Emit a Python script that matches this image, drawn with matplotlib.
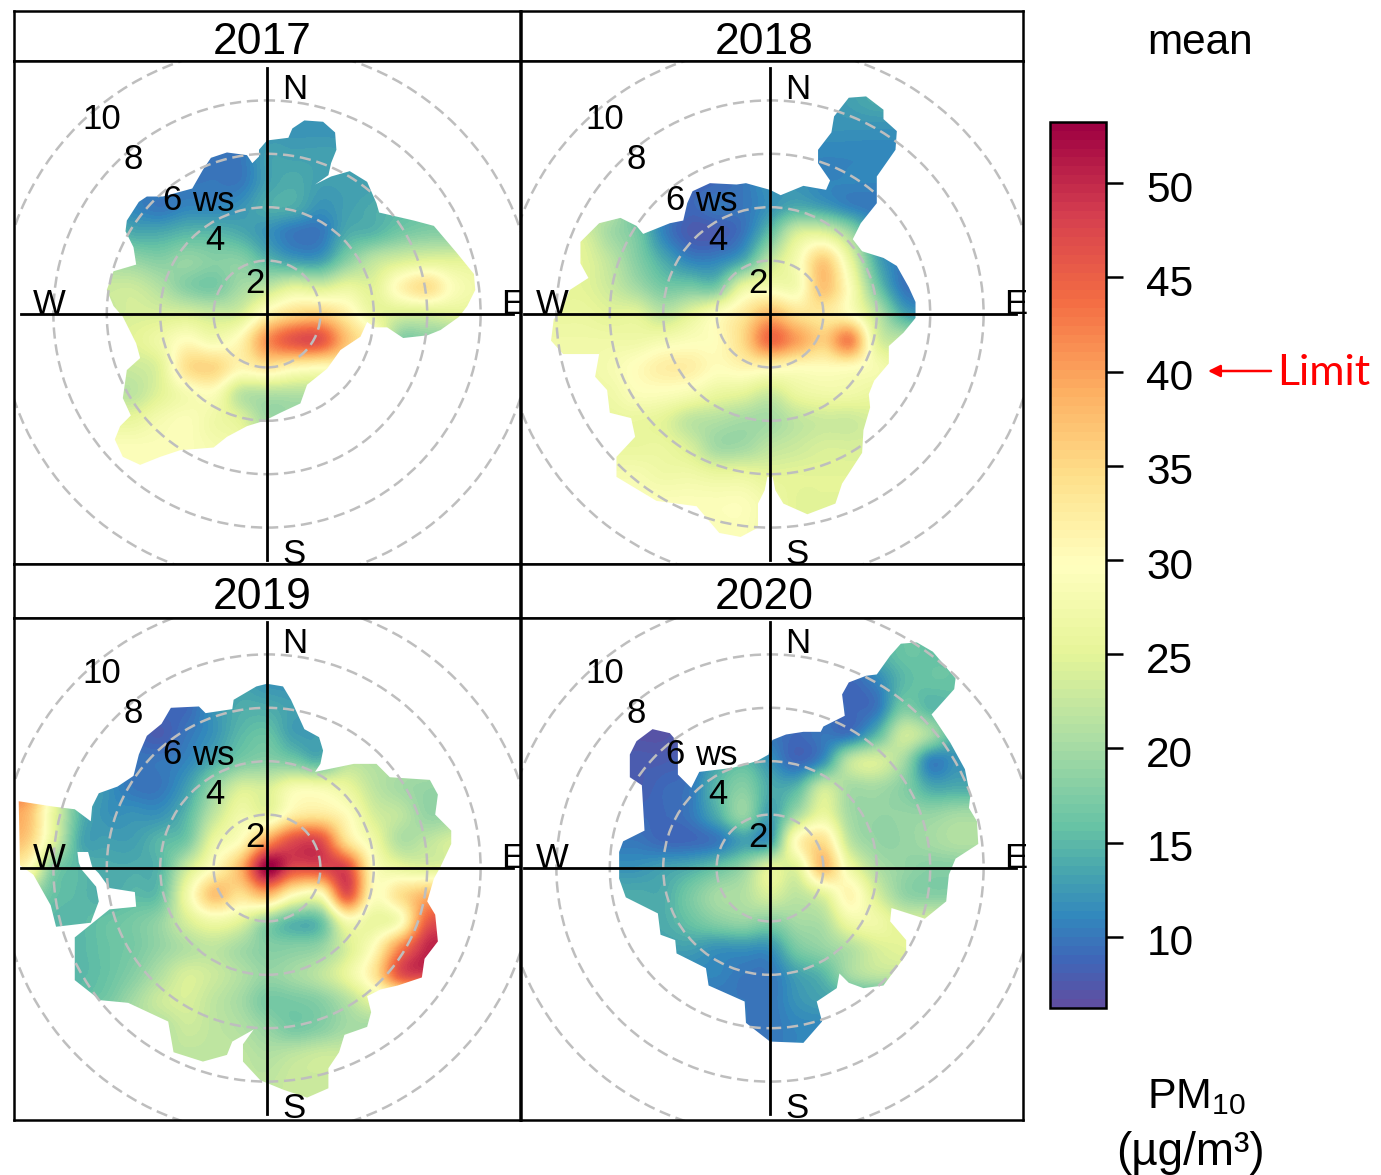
import matplotlib
matplotlib.use("Agg")
import matplotlib.pyplot as plt
import numpy as np
from matplotlib.cm import ScalarMappable
from matplotlib.colors import LinearSegmentedColormap, Normalize
from matplotlib.patches import Circle, FancyArrowPatch, Polygon
from matplotlib.transforms import ScaledTranslation

plt.rcParams['font.family'] = ['Liberation Sans', 'DejaVu Sans']
plt.rcParams['mathtext.default'] = 'regular'

years = ['2017', '2018', '2019', '2020']
ring_ws = [2, 4, 6, 8, 10]
cbar_ticks = [10, 15, 20, 25, 30, 35, 40, 45, 50]
pm_min = 6.23
pm_max = 53.24

# mean PM10, rows ws_y = 9..-9, columns ws_x = -9..9
# cells outside the rim only pad the image, the clip hides them
pm_2017 = [
    [11, 11, 11, 11, 11, 11, 11, 10, 10, 12, 12, 12, 12, 12, 13, 13, 13, 13, 13],
    [11, 11, 11, 11, 11, 11, 11, 10, 10, 12, 12, 12, 12, 12, 13, 13, 13, 13, 13],
    [11, 11, 11, 11, 11, 11, 10, 10, 10, 12, 12, 12, 12, 13, 13, 13, 14, 14, 14],
    [11, 11, 11, 11, 11, 10, 10, 10, 10, 13, 13, 13, 13, 13, 13, 14, 14, 14, 14],
    [11, 11, 11, 11, 11, 11, 10, 10, 10, 13, 14, 13, 13, 13, 14, 14, 15, 15, 15],
    [12, 12, 12, 12, 11, 10, 11, 11, 12, 14, 14, 12, 13, 14, 15, 16, 17, 17, 17],
    [16, 16, 16, 16, 14, 14, 15, 15, 14, 12, 10, 10, 14, 15, 17, 18, 18, 18, 18],
    [22, 22, 22, 20, 19, 18, 19, 18, 18, 15, 13, 13, 18, 22, 24, 25, 25, 25, 25],
    [24, 24, 24, 23, 23, 21, 18, 17, 20, 22, 25, 24, 26, 25, 31, 34, 29, 27, 27],
    [24, 24, 24, 23, 24, 24, 24, 23, 24, 31, 35, 36, 32, 26, 24, 24, 25, 25, 25],
    [25, 25, 25, 25, 25, 27, 30, 28, 31, 41, 46, 46, 37, 30, 18, 18, 18, 18, 18],
    [23, 23, 23, 23, 23, 25, 34, 35, 31, 33, 31, 30, 30, 22, 18, 18, 18, 18, 18],
    [22, 22, 22, 22, 22, 25, 28, 29, 22, 21, 21, 21, 21, 21, 21, 21, 21, 21, 21],
    [26, 26, 26, 26, 26, 28, 29, 27, 25, 20, 20, 20, 20, 20, 20, 20, 20, 20, 20],
    [29, 29, 29, 29, 29, 29, 29, 28, 27, 25, 25, 25, 25, 25, 25, 25, 25, 25, 25],
    [29, 29, 29, 29, 29, 29, 29, 28, 27, 25, 25, 25, 25, 25, 25, 25, 25, 25, 25],
    [29, 29, 29, 29, 29, 29, 29, 28, 27, 25, 25, 25, 25, 25, 25, 25, 25, 25, 25],
    [29, 29, 29, 29, 29, 29, 29, 28, 27, 25, 25, 25, 25, 25, 25, 25, 25, 25, 25],
    [29, 29, 29, 29, 29, 29, 29, 28, 27, 25, 25, 25, 25, 25, 25, 25, 25, 25, 25],
]
pm_2018 = [
    [10, 10, 10, 10, 10, 10, 10, 10, 10, 11, 12, 12, 13, 14, 14, 14, 14, 14, 14],
    [10, 10, 10, 10, 10, 10, 10, 10, 10, 11, 12, 12, 13, 14, 14, 14, 14, 14, 14],
    [10, 10, 10, 10, 10, 10, 10, 10, 10, 11, 12, 12, 12, 12, 12, 12, 12, 12, 12],
    [10, 10, 10, 10, 10, 10, 10, 10, 10, 11, 11, 11, 11, 11, 11, 11, 11, 11, 11],
    [10, 10, 10, 10, 10, 10, 9, 9, 10, 12, 12, 11, 11, 11, 11, 11, 11, 11, 11],
    [20, 20, 20, 20, 15, 11, 9, 10, 10, 12, 14, 13, 11, 10, 10, 10, 10, 10, 10],
    [25, 25, 24, 20, 17, 11, 8, 8, 10, 16, 24, 25, 20, 12, 10, 10, 10, 10, 10],
    [25, 25, 25, 22, 18, 14, 11, 11, 14, 22, 28, 36, 26, 14, 10, 10, 10, 10, 10],
    [25, 25, 25, 23, 20, 17, 17, 17, 26, 28, 28, 37, 29, 17, 10, 10, 10, 10, 10],
    [26, 26, 26, 25, 25, 22, 25, 29, 33, 38, 34, 33, 30, 22, 14, 12, 12, 12, 12],
    [27, 27, 27, 27, 27, 28, 29, 30, 35, 44, 40, 36, 42, 25, 22, 22, 22, 22, 22],
    [27, 27, 27, 28, 30, 32, 32, 30, 31, 31, 30, 30, 30, 28, 26, 26, 26, 26, 26],
    [27, 27, 27, 27, 29, 29, 28, 26, 25, 23, 26, 27, 27, 26, 26, 26, 26, 26, 26],
    [26, 26, 26, 26, 26, 25, 22, 21, 20, 20, 22, 23, 23, 24, 24, 24, 24, 24, 24],
    [26, 26, 26, 26, 26, 26, 24, 20, 20, 22, 23, 24, 24, 24, 24, 24, 24, 24, 24],
    [28, 28, 28, 28, 28, 27, 27, 26, 26, 25, 25, 25, 25, 25, 25, 25, 25, 25, 25],
    [29, 29, 29, 29, 29, 29, 29, 29, 29, 27, 25, 25, 25, 25, 25, 25, 25, 25, 25],
    [29, 29, 29, 29, 29, 29, 29, 29, 29, 27, 25, 25, 25, 25, 25, 25, 25, 25, 25],
    [29, 29, 29, 29, 29, 29, 29, 29, 29, 27, 25, 25, 25, 25, 25, 25, 25, 25, 25],
]
pm_2019 = [
    [9, 9, 9, 9, 9, 9, 9, 11, 13, 12, 12, 12, 13, 14, 14, 14, 14, 14, 14],
    [9, 9, 9, 9, 9, 9, 9, 11, 13, 12, 12, 12, 13, 14, 14, 14, 14, 14, 14],
    [9, 9, 9, 9, 9, 9, 9, 11, 13, 12, 12, 13, 14, 14, 14, 14, 14, 14, 14],
    [9, 9, 9, 9, 9, 9, 9, 12, 14, 14, 13, 13, 14, 14, 14, 14, 14, 14, 14],
    [10, 10, 10, 10, 9, 8, 10, 12, 15, 16, 13, 13, 16, 20, 20, 20, 20, 20, 20],
    [11, 11, 11, 11, 10, 10, 11, 14, 17, 18, 17, 15, 21, 21, 21, 21, 21, 21, 21],
    [38, 26, 15, 12, 10, 10, 13, 19, 24, 24, 28, 28, 26, 22, 20, 19, 19, 19, 19],
    [38, 26, 15, 12, 12, 12, 15, 22, 27, 26, 32, 33, 30, 24, 22, 19, 19, 19, 19],
    [36, 25, 14, 13, 13, 15, 17, 26, 30, 40, 47, 47, 34, 27, 21, 22, 24, 24, 24],
    [30, 18, 15, 14, 14, 15, 23, 30, 38, 53, 47, 47, 47, 30, 26, 25, 25, 25, 25],
    [20, 16, 15, 14, 15, 16, 27, 37, 34, 38, 30, 29, 46, 30, 34, 38, 38, 38, 38],
    [16, 15, 15, 16, 17, 19, 24, 27, 25, 19, 15, 16, 28, 26, 29, 45, 46, 46, 46],
    [15, 15, 15, 16, 17, 19, 21, 22, 20, 18, 18, 19, 24, 30, 42, 50, 50, 50, 50],
    [15, 15, 15, 16, 18, 21, 24, 23, 21, 19, 20, 22, 26, 33, 46, 48, 48, 48, 48],
    [15, 16, 16, 17, 20, 23, 24, 22, 20, 17, 17, 18, 21, 25, 25, 25, 25, 25, 25],
    [20, 20, 20, 20, 21, 21, 23, 22, 21, 19, 17, 18, 20, 20, 20, 20, 20, 20, 20],
    [22, 22, 22, 22, 22, 22, 22, 22, 22, 21, 22, 23, 23, 23, 23, 23, 23, 23, 23],
    [22, 22, 22, 22, 22, 22, 22, 22, 22, 22, 23, 23, 23, 23, 23, 23, 23, 23, 23],
    [22, 22, 22, 22, 22, 22, 22, 22, 22, 22, 23, 23, 23, 23, 23, 23, 23, 23, 23],
]
pm_2020 = [
    [8, 8, 8, 8, 8, 8, 8, 8, 10, 10, 10, 10, 12, 14, 16, 16, 16, 16, 16],
    [8, 8, 8, 8, 8, 8, 8, 8, 10, 10, 10, 10, 12, 14, 16, 16, 16, 16, 16],
    [7, 7, 7, 7, 7, 7, 8, 10, 10, 10, 10, 10, 9, 11, 15, 16, 16, 16, 16],
    [7, 7, 7, 7, 7, 7, 8, 10, 10, 10, 10, 10, 9, 10, 17, 15, 15, 15, 15],
    [7, 7, 7, 7, 7, 7, 8, 10, 10, 10, 9, 10, 10, 15, 23, 20, 14, 14, 14],
    [8, 8, 8, 8, 8, 8, 9, 13, 15, 12, 9, 12, 22, 24, 20, 11, 12, 12, 12],
    [8, 8, 8, 8, 8, 9, 10, 15, 18, 14, 15, 23, 20, 20, 18, 14, 14, 14, 14],
    [9, 9, 9, 9, 9, 9, 10, 14, 19, 13, 20, 26, 20, 19, 19, 19, 20, 20, 20],
    [10, 10, 10, 10, 10, 9, 9, 10, 13, 13, 30, 34, 22, 19, 19, 20, 21, 21, 21],
    [12, 12, 12, 12, 12, 13, 14, 16, 19, 25, 25, 37, 27, 21, 19, 18, 18, 18, 18],
    [14, 14, 14, 14, 14, 14, 17, 20, 21, 24, 22, 25, 31, 24, 19, 18, 18, 18, 18],
    [14, 14, 14, 14, 14, 14, 16, 18, 19, 18, 20, 21, 27, 27, 24, 24, 24, 24, 24],
    [13, 13, 13, 13, 13, 13, 13, 12, 12, 12, 17, 19, 21, 24, 25, 25, 25, 25, 25],
    [11, 11, 11, 11, 11, 11, 11, 11, 10, 10, 13, 15, 20, 22, 22, 22, 22, 22, 22],
    [10, 10, 10, 10, 10, 10, 10, 10, 10, 10, 12, 13, 13, 13, 13, 13, 13, 13, 13],
    [10, 10, 10, 10, 10, 10, 10, 10, 10, 10, 11, 11, 11, 11, 11, 11, 11, 11, 11],
    [10, 10, 10, 10, 10, 10, 10, 10, 10, 10, 11, 11, 11, 11, 11, 11, 11, 11, 11],
    [10, 10, 10, 10, 10, 10, 10, 10, 10, 10, 11, 11, 11, 11, 11, 11, 11, 11, 11],
    [10, 10, 10, 10, 10, 10, 10, 10, 10, 10, 11, 11, 11, 11, 11, 11, 11, 11, 11],
]

# edge of the covered area in wind speed units
rim_x_2017 = [-0.3, 0, 0.8, 0.95, 1.4, 2.1, 2.55, 2.6, 2.4, 2.3, 1.8, 2.4, 3.1, 3.75, 4.1, 4.2, 5.5, 6.25, 7.1, 7.75, 7.8, 7.5, 7.2, 6.5, 6, 5.1, 4.5, 4.05, 3.75, 3.5, 2.75, 2.25, 1.5, 1.25, 0.5, -0.1, -0.75, -1.5, -2, -3.25, -4, -4.75, -5.4, -5.7, -5.5, -5.1, -5.4, -5.25, -4.75, -4.9, -5.4, -5.75, -6, -5.75, -4.9, -5, -5.3, -5.25, -4.8, -4.5, -3.9, -2.8, -2.4, -2.1, -1.5, -0.75, -0.55, -0.3]
rim_y_2017 = [6.15, 6.5, 6.6, 6.95, 7.25, 7.2, 6.8, 6.15, 5.65, 5.2, 4.85, 5.15, 5.35, 4.95, 4.15, 3.8, 3.5, 3.3, 2.3, 1.5, 0.9, 0.3, -0.1, -0.6, -0.8, -0.9, -0.5, -0.5, -0.3, -0.85, -1.35, -2.05, -2.65, -3.35, -3.7, -4, -4.2, -4.6, -5, -5.1, -5.35, -5.65, -5.35, -4.7, -4.2, -3.8, -3.15, -2.1, -1.65, -1.1, -0.1, 0.3, 0.9, 1.6, 1.85, 2.5, 3.1, 3.5, 4.2, 4.4, 4.4, 4.7, 5.4, 5.85, 6.05, 5.95, 5.65, 5.9]
rim_x_2018 = [0, 0.4, 1.25, 2.1, 2.25, 1.8, 1.8, 2.3, 2.4, 2.95, 3.6, 4.25, 4.25, 4.75, 4.7, 4, 4, 3.4, 3.1, 3.45, 4.25, 4.75, 5.2, 5.45, 5.45, 5, 4.45, 4.45, 3.9, 3.7, 3.75, 3.5, 3.45, 2.7, 2.45, 1.4, 0.5, 0.2, 0.1, -0.1, -0.2, -0.45, -0.45, -1.1, -1.9, -2.75, -4.25, -5.75, -5.75, -5.05, -5.2, -6, -6.1, -6.55, -6.4, -7.75, -8.2, -8.1, -7.8, -7.5, -6.8, -7.1, -7.1, -6.4, -5.6, -5, -4.75, -3.75, -3.25, -3.1, -2.9, -2.25, -1.25, -0.9]
rim_y_2018 = [4.65, 4.45, 4.8, 4.65, 5, 5.65, 6.15, 6.8, 7.4, 8.1, 8.15, 7.65, 7.3, 6.85, 6.15, 5.15, 4.15, 3.4, 2.8, 2.35, 2.1, 1.8, 1, 0.45, -0.15, -0.7, -1.2, -1.85, -2.5, -3, -3.5, -4.35, -5.2, -6.35, -7.1, -7.5, -7.1, -6.6, -6.1, -6.1, -6.6, -7.1, -8, -8.35, -8.2, -7.2, -7, -6.1, -5.35, -4.6, -3.9, -3.7, -2.85, -2.35, -1.5, -1.5, -1, -0.2, 0.15, 0.9, 1.35, 1.9, 2.7, 3.4, 3.6, 3.3, 3, 3.4, 3.5, 4.15, 4.6, 4.9, 4.85, 4.9]
rim_x_2019 = [0, 0.6, 0.9, 1.4, 1.95, 2.1, 2, 1.8, 3.25, 4.1, 4.6, 6.1, 6.4, 6.3, 6.9, 6.9, 6.5, 6.25, 6, 6.3, 6.4, 5.9, 5.8, 4.9, 4.25, 3.75, 3.9, 3.75, 2.9, 2.7, 2.3, 2.3, 1.5, 0.6, -0.25, -0.9, -0.9, -0.5, -1.3, -1.5, -2.4, -3.5, -3.7, -5.2, -6.25, -7.2, -7.2, -5.9, -4.9, -4.95, -5.9, -6.3, -6.55, -6.7, -7.1, -7.05, -6.95, -6.4, -6.3, -6.6, -7.9, -8.1, -8.75, -9.25, -9.3, -8, -7.2, -6.6, -6.55, -6.3, -5.6, -5, -4.8, -4.5, -3.95, -3.6, -2.55, -2.3, -1.3, -1.25, -0.4]
rim_y_2019 = [6.9, 6.8, 6.3, 5.2, 4.9, 4.4, 3.9, 3.6, 3.9, 3.9, 3.4, 3.3, 2.75, 2, 1.4, 0.9, 0.05, -0.4, -1.25, -1.75, -2.75, -3.4, -4.1, -4.4, -4.55, -4.8, -5.4, -5.95, -6.25, -6.9, -7.5, -8.25, -8.6, -8.3, -7.95, -7.25, -6.6, -6.05, -6.5, -7, -7.25, -6.9, -5.75, -5.05, -4.95, -4.2, -2.6, -1.55, -1.45, -0.9, -0.75, -0.2, 0.05, 0.6, 0.6, 0.2, -0.05, -0.7, -1.25, -2.05, -2.2, -1.4, -0.25, 0.1, 2.5, 2.3, 2.2, 1.75, 2.3, 2.8, 3.05, 3.45, 4.25, 4.95, 5.4, 6, 6.05, 5.8, 5.95, 6.3, 6.8]
rim_x_2020 = [0, 0.1, 0.6, 1.25, 1.9, 2, 2.8, 2.7, 2.95, 3.6, 4, 4.5, 4.9, 5.5, 6.1, 6.95, 6.9, 6.05, 6.75, 7.3, 7.5, 7.45, 7.75, 7.8, 6.95, 6.7, 6.6, 5.8, 4.55, 4.5, 5.1, 5.1, 4.25, 3.5, 2.95, 2.6, 2.5, 1.75, 1.95, 1.25, 0, -0.9, -0.95, -2.3, -2.4, -3.5, -3.55, -4.1, -4.2, -5.4, -5.65, -5.65, -5.5, -4.7, -4.75, -4.8, -5.25, -5.25, -5, -4.4, -3.75, -3.45, -3.45, -2.95, -2.65, -1.4, -0.5, -0.05]
rim_y_2020 = [4.65, 4.8, 5, 5.1, 5.1, 5.3, 5.7, 6.5, 6.95, 7.2, 7.25, 7.95, 8.4, 8.45, 8.1, 7.1, 6.7, 5.75, 4.7, 3.7, 2.7, 2.25, 1.75, 0.9, 0.35, -0.25, -1.25, -1.9, -1.5, -2, -2.7, -3.25, -4.4, -4.5, -4.3, -3.95, -4.5, -5, -5.75, -6.55, -6.5, -5.8, -5, -4.4, -3.75, -3.2, -2.7, -2.5, -1.7, -1.1, -0.4, 0.6, 1, 1.4, 2.25, 3.1, 3.4, 4.25, 4.75, 5.2, 5.05, 4.7, 3.5, 3, 3.6, 3.75, 4, 4.25]

pm_grids = [pm_2017, pm_2018, pm_2019, pm_2020]
rims_x = [rim_x_2017, rim_x_2018, rim_x_2019, rim_x_2020]
rims_y = [rim_y_2017, rim_y_2018, rim_y_2019, rim_y_2020]

W, H = 1381, 1175
PX_PER_WS = 26.7


def px_axes(left, top, right, bottom):
    return fig.add_axes([left / W, 1 - bottom / H, (right - left) / W, (bottom - top) / H])


pm_cmap = LinearSegmentedColormap.from_list('pm', [
    (0.0, '#5E4FA2'), (0.05, '#3F66B8'), (0.1, '#3288BD'), (0.15, '#47A5AE'), (0.2, '#66C2A5'),
    (0.3, '#ABDDA4'), (0.4, '#E6F598'), (0.5, '#FFFFBF'), (0.6, '#FEE08B'), (0.7, '#FDAE61'),
    (0.8, '#F46D43'), (0.9, '#D53E4F'), (1.0, '#9E0142')], N=100)
norm = Normalize(pm_min, pm_max)

fig = plt.figure(figsize=(W / 100, H / 100), dpi=100)

# box edges and centre of each panel, in pixels
boxes = [(14, 61, 520, 564, 267, 314), (521, 61, 1023, 564, 770, 314),
         (14, 618, 520, 1120, 267, 868), (521, 618, 1023, 1120, 770, 868)]
strips = [(14, 11, 520, 61), (521, 11, 1023, 61), (14, 564, 520, 618), (521, 564, 1023, 618)]
title_x = [0.49, 0.485, 0.49, 0.485]
title_y = [0.36, 0.36, 0.38, 0.38]

for i, year in enumerate(years):
    st = px_axes(*strips[i])
    st.set_xticks([])
    st.set_yticks([])
    for s in st.spines.values():
        s.set_linewidth(1.8)
    st.text(title_x[i], title_y[i], year, fontsize=32, ha='center', va='center', transform=st.transAxes)

    left, top, right, bottom, cx, cy = boxes[i]
    ax = px_axes(left, top, right, bottom)
    im = ax.imshow(pm_grids[i], extent=(-9.5, 9.5, -9.5, 9.5), cmap=pm_cmap, norm=norm,
                   interpolation='catrom', aspect='auto')
    rim = Polygon(list(zip(rims_x[i], rims_y[i])), closed=True, transform=ax.transData)
    im.set_clip_path(rim)
    ax.set_xlim((left - cx) / PX_PER_WS, (right - cx) / PX_PER_WS)
    ax.set_ylim((cy - bottom) / PX_PER_WS, (cy - top) / PX_PER_WS)
    ax.set_xticks([])
    ax.set_yticks([])
    for s in ax.spines.values():
        s.set_linewidth(1.8)

    for r in ring_ws:
        ax.add_patch(Circle((0, 0), r, fill=False, ec='#BEBEBE', lw=1.8, ls=(0, (4.5, 2.3))))
    ax.plot([-9.2, 9.2], [0, 0], color='k', lw=2)
    ax.plot([0, 0], [-9.2, 9.2], color='k', lw=2)

    for label, lx, ly in [('10', -6.2, 7.3), ('8', -5.0, 5.8), ('6', -3.55, 4.25), ('ws', -2.0, 4.2),
                          ('4', -1.95, 2.75), ('2', -0.45, 1.15), ('N', 1.05, 8.4), ('S', 1.0, -9.0),
                          ('W', -8.15, 0.35), ('E', 9.2, 0.35)]:
        ax.text(lx, ly, label, fontsize=25, ha='center', va='center', clip_on=False)

cax = px_axes(1050, 122, 1106, 1008)
cb = fig.colorbar(ScalarMappable(norm=norm, cmap=pm_cmap), cax=cax, ticks=cbar_ticks)
cb.ax.tick_params(length=12, width=1.8, pad=17, labelsize=30.5)
cb.outline.set_linewidth(1.8)
for lab in cb.ax.get_yticklabels():
    lab.set_transform(lab.get_transform() + ScaledTranslation(0, -3 / 100, fig.dpi_scale_trans))

fig.text(1147 / W, 1 - 43 / H, 'mean', fontsize=30.5, ha='left', va='center')
fig.text(1147 / W, 1 - 1097 / H, 'PM$_{10}$', fontsize=31, ha='left', va='center')
fig.text(1190 / W, 1 - 1153 / H, '(µg/m³)', fontsize=33, ha='center', va='center')
fig.text(1277 / W, 1 - 373 / H, 'Limit', fontsize=31, color='red', ha='left', va='center', family='Lato')
fig.add_artist(FancyArrowPatch((1271 / W, 1 - 371 / H), (1208 / W, 1 - 371 / H),
                               transform=fig.transFigure, arrowstyle='-|>', color='red',
                               lw=1.8, mutation_scale=18, shrinkA=0, shrinkB=0))

fig.savefig('out.png', dpi=100)
